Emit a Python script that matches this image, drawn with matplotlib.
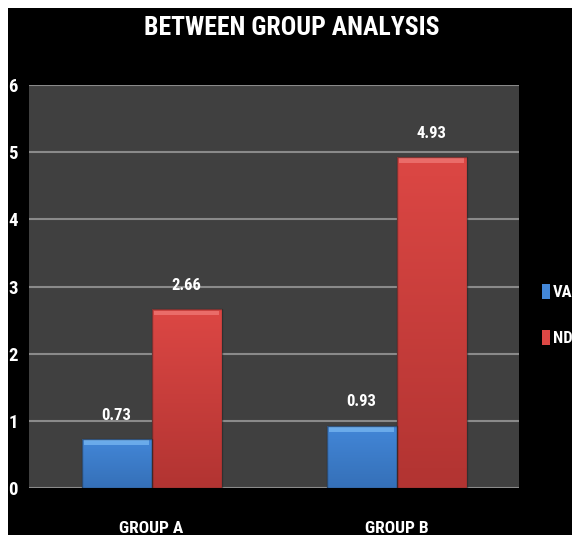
import numpy as np
import matplotlib.pyplot as plt
from matplotlib.patches import Rectangle, Patch
from matplotlib.colors import LinearSegmentedColormap
from matplotlib import font_manager

# data
groups = ["GROUP A", "GROUP B"]
series = ["VAS", "NDI"]
vas = [0.73, 0.93]
ndi = [2.66, 4.93]
yticks = [0, 1, 2, 3, 4, 5, 6]

# colours: (top, bottom, bevel)
blue = ("#4387d8", "#3570b8", "#79b8f2")
red = ("#dc4744", "#b23432", "#f07a76")

# pick a condensed face if one is around
names = {f.name for f in font_manager.fontManager.ttflist}
narrow = [n for n in ["Liberation Sans Narrow", "Roboto Condensed", "Open Sans Condensed",
                      "DejaVu Sans Condensed", "Lato"] if n in names]
plt.rcParams["font.family"] = narrow[:1] + ["DejaVu Sans"]
plt.rcParams["font.weight"] = "bold"

fig = plt.figure(figsize=(5.72, 5.35), dpi=100, facecolor="white")
# black panel with thin white margin at top/left
fig.patches.append(Rectangle((8 / 572, 0), 1, 527 / 535, transform=fig.transFigure,
                             facecolor="black", edgecolor="none", zorder=-10))

ax = fig.add_axes([29 / 572, 1 - 488 / 535, 490 / 572, 403 / 535])
ax.set_facecolor("#404040")
for s in ax.spines.values():
    s.set_visible(False)

x = np.arange(len(groups))
w = 1 / 3.5


def shade(bars, cols):
    top, bot, bevel = cols
    cmap = LinearSegmentedColormap.from_list("g", [bot, top])
    for b in bars:
        x0, y0 = b.get_x(), b.get_y()
        bw, bh = b.get_width(), b.get_height()
        grad = np.linspace(0, 1, 100).reshape(-1, 1)
        im = ax.imshow(grad, cmap=cmap, origin="lower", aspect="auto",
                       extent=(x0, x0 + bw, y0, y0 + bh), zorder=3)
        im.set_clip_path(b)
        # light bevel along the top edge
        ax.add_patch(Rectangle((x0 + bw * 0.04, y0 + bh - 0.09), bw * 0.92, 0.07,
                               facecolor=bevel, edgecolor="none", alpha=0.75, zorder=4))
        ax.add_patch(Rectangle((x0, y0), bw, bh, facecolor="none",
                               edgecolor="#222222", lw=1.0, alpha=0.5, zorder=5))


b1 = ax.bar(x - w / 2, vas, w, color=blue[0], zorder=2)
b2 = ax.bar(x + w / 2, ndi, w, color=red[0], zorder=2)
shade(b1, blue)
shade(b2, red)

for bars, vals in ((b1, vas), (b2, ndi)):
    for b, v in zip(bars, vals):
        ax.annotate(f"{v:.2f}", (b.get_x() + b.get_width() / 2, v),
                    xytext=(0, 17), textcoords="offset points",
                    ha="center", va="center", color="white",
                    fontsize=12, fontweight="bold", zorder=6)

ax.set_xlim(-0.5, 1.5)
ax.set_ylim(0, 6)
ax.set_yticks(yticks)
ax.yaxis.grid(True, color="#8a8a8a", lw=1.5, zorder=1)
ax.set_axisbelow(True)
ax.tick_params(axis="y", length=0, pad=8, labelcolor="white", labelsize=13.5)
ax.set_xticks(x)
ax.set_xticklabels(groups)
ax.tick_params(axis="x", length=0, pad=24, labelcolor="white", labelsize=12.5)

fig.text(292 / 572, 1 - 28 / 535, "BETWEEN GROUP ANALYSIS", ha="center", va="center",
         color="white", fontsize=18.5, fontweight="bold")

handles = [Patch(facecolor=blue[0], edgecolor="none"), Patch(facecolor=red[0], edgecolor="none")]
leg = fig.legend(handles, series, loc="center left", bbox_to_anchor=(527 / 572, 1 - 315 / 535),
                 frameon=False, fontsize=12, handlelength=0.5, handleheight=1.0,
                 handletextpad=0.15, labelspacing=1.8, labelcolor="white")

fig.savefig("out.png", dpi=100, facecolor="white")
